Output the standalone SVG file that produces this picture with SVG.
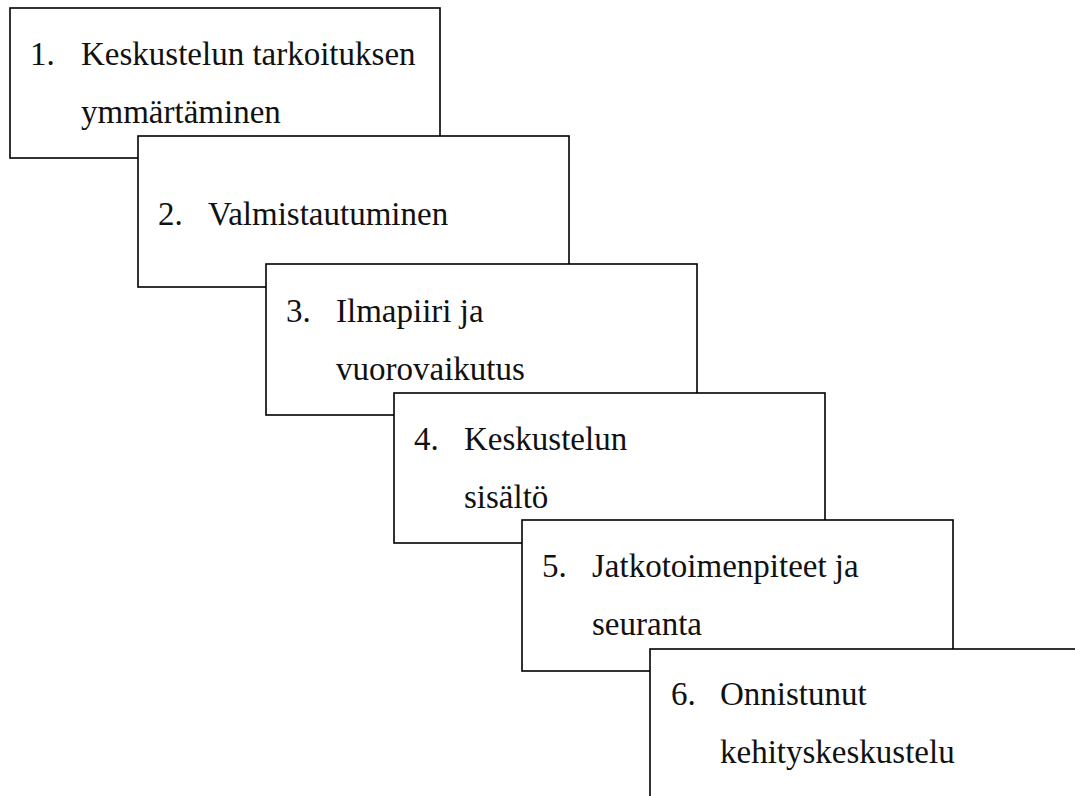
<svg xmlns="http://www.w3.org/2000/svg" width="1075" height="796" viewBox="0 0 1075 796">
<style>
.box{fill:#fff;stroke:#000;stroke-width:1.6}
.t{font-family:'Liberation Serif','Times New Roman','DejaVu Serif',serif;font-size:33px;fill:#111}
</style>
<rect x="0" y="0" width="1075" height="796" fill="#fff"/>
<g id="step1">
<rect class="box" x="10" y="8" width="430" height="150"/>
<text class="t" x="30" y="65">1.</text>
<text class="t" x="81" y="65">Keskustelun tarkoituksen</text>
<text class="t" x="81" y="123">ymmärtäminen</text>
</g>
<g id="step2">
<rect class="box" x="138" y="136" width="431" height="151"/>
<text class="t" x="158" y="225">2.</text>
<text class="t" x="208" y="225">Valmistautuminen</text>
</g>
<g id="step3">
<rect class="box" x="266" y="264" width="431" height="151"/>
<text class="t" x="286" y="322">3.</text>
<text class="t" x="336" y="322">Ilmapiiri ja</text>
<text class="t" x="336" y="380">vuorovaikutus</text>
</g>
<g id="step4">
<rect class="box" x="394" y="393" width="431" height="150"/>
<text class="t" x="414" y="450">4.</text>
<text class="t" x="464" y="450">Keskustelun</text>
<text class="t" x="464" y="508">sisältö</text>
</g>
<g id="step5">
<rect class="box" x="522" y="520" width="431" height="151"/>
<text class="t" x="542" y="577">5.</text>
<text class="t" x="592" y="577">Jatkotoimenpiteet ja</text>
<text class="t" x="592" y="635">seuranta</text>
</g>
<g id="step6">
<rect class="box" x="650" y="649" width="431" height="151"/>
<text class="t" x="671" y="705">6.</text>
<text class="t" x="720" y="705">Onnistunut</text>
<text class="t" x="720" y="763">kehityskeskustelu</text>
</g>
<g id="connectors"></g>
</svg>
